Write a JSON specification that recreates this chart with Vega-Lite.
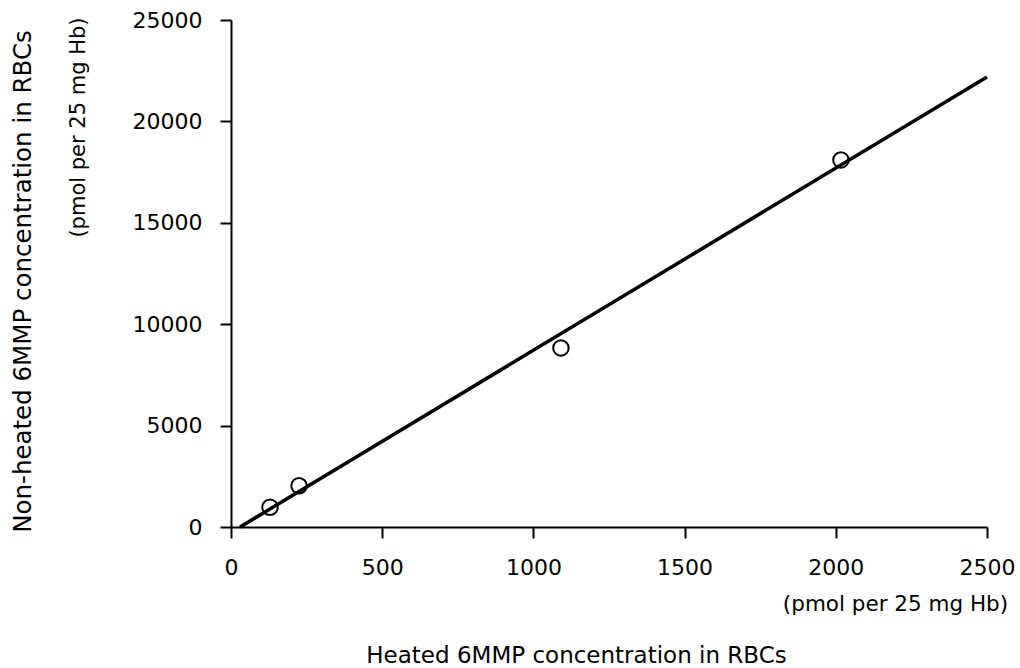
{
  "$schema": "https://vega.github.io/schema/vega-lite/v6.json",
  "width": 756,
  "height": 507,
  "autosize": {"type": "none"},
  "padding": {"left": 231, "top": 20, "right": 33, "bottom": 141},
  "background": "white",
  "config": {"view": {"stroke": null}, "font": "DejaVu Sans"},
  "layer": [
    {
      "data": {"values": [
        {"heated": 129, "nonheated": 975},
        {"heated": 225, "nonheated": 2035},
        {"heated": 1091, "nonheated": 8830},
        {"heated": 2017, "nonheated": 18100}
      ]},
      "mark": {"type": "point", "shape": "circle", "filled": false, "stroke": "black", "strokeWidth": 2, "size": 240, "opacity": 1},
      "encoding": {
        "x": {"field": "heated", "type": "quantitative", "scale": {"domain": [0, 2500], "nice": false},
          "axis": {"orient": "bottom", "values": [0, 500, 1000, 1500, 2000, 2500], "format": "d", "grid": false,
            "domainColor": "black", "domainWidth": 2, "tickColor": "black", "tickWidth": 2, "tickSize": 11,
            "labelFont": "DejaVu Sans", "labelFontSize": 22, "labelColor": "black", "labelPadding": 19, "labelFlush": false, "labelOverlap": false,
            "title": "(pmol per 25 mg Hb)", "titleFont": "DejaVu Sans", "titleFontSize": 21.5, "titleFontWeight": "normal", "titleColor": "black",
            "titleX": 664, "titleY": 77, "titleAlign": "center", "titleBaseline": "middle", "titleAnchor": null}},
        "y": {"field": "nonheated", "type": "quantitative", "scale": {"domain": [0, 25000], "nice": false},
          "axis": {"orient": "left", "values": [0, 5000, 10000, 15000, 20000, 25000], "format": "d", "grid": false,
            "domainColor": "black", "domainWidth": 2, "tickColor": "black", "tickWidth": 2, "tickSize": 11,
            "labelFont": "DejaVu Sans", "labelFontSize": 22, "labelColor": "black", "labelPadding": 18, "labelFlush": false, "labelOverlap": false,
            "title": "(pmol per 25 mg Hb)", "titleFont": "DejaVu Sans", "titleFontSize": 21, "titleFontWeight": "normal", "titleColor": "black",
            "titleAngle": 270, "titleX": -153, "titleY": -3, "titleAlign": "right", "titleBaseline": "middle", "titleAnchor": null}}
      }
    },
    {
      "data": {"values": [
        {"heated": 30, "nonheated": 0},
        {"heated": 2500, "nonheated": 22190}
      ]},
      "mark": {"type": "line", "color": "black", "strokeWidth": 3.5},
      "encoding": {
        "x": {"field": "heated", "type": "quantitative",
          "axis": {"orient": "bottom", "domain": false, "ticks": false, "labels": false, "grid": false,
            "title": "Heated 6MMP concentration in RBCs", "titleFont": "DejaVu Sans", "titleFontSize": 23, "titleFontWeight": "normal", "titleColor": "black",
            "titleX": 345, "titleY": 128, "titleAlign": "center", "titleBaseline": "middle", "titleAnchor": null}},
        "y": {"field": "nonheated", "type": "quantitative",
          "axis": {"orient": "left", "domain": false, "ticks": false, "labels": false, "grid": false,
            "title": "Non-heated 6MMP concentration in RBCs", "titleFont": "DejaVu Sans", "titleFontSize": 24.5, "titleFontWeight": "normal", "titleColor": "black",
            "titleAngle": 270, "titleX": -208, "titleY": 261, "titleAlign": "center", "titleBaseline": "middle", "titleAnchor": null}}
      }
    }
  ],
  "resolve": {"axis": {"x": "independent", "y": "independent"}}
}
